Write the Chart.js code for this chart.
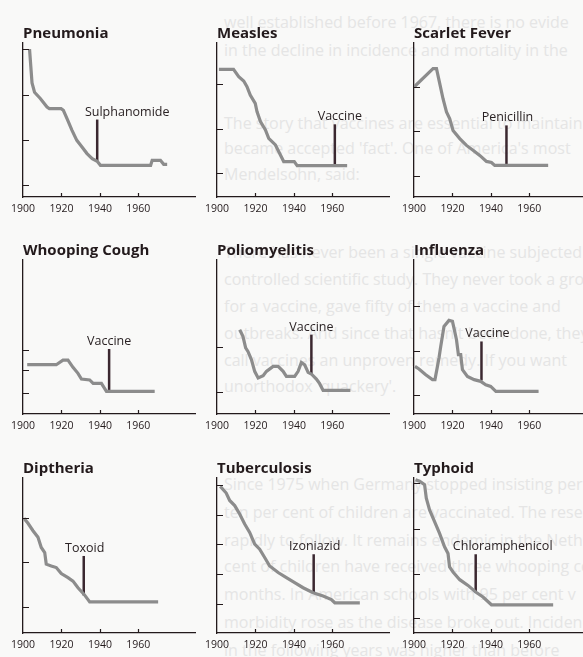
<!DOCTYPE html>
<html>
<head>
<meta charset="utf-8">
<script src="https://cdn.jsdelivr.net/npm/chart.js@4.4.1/dist/chart.umd.min.js"></script>
<style>
  html, body { margin: 0; padding: 0; }
  body {
    width: 583px; height: 657px; overflow: hidden; position: relative;
    background: #f9f9f8; font-family: 'Open Sans', sans-serif;
  }
  .page-text {
    position: absolute; left: 224px; white-space: nowrap;
    font-size: 16px; line-height: 20px; color: #e5e5e5;
  }
  canvas { position: absolute; }
</style>
</head>
<body>
<!-- body text of the page, running faintly behind the charts -->
<div class="page-text" style="top:12px">well established before 1967, there is no evide</div>
<div class="page-text" style="top:40px">in the decline in incidence and mortality in the</div>
<div class="page-text" style="top:113px">The story that vaccines are essential to maintain</div>
<div class="page-text" style="top:138px">became accepted 'fact'. One of America's most</div>
<div class="page-text" style="top:164px">Mendelsohn, said:</div>
<div class="page-text" style="top:242px">There has never been a single vaccine subjected to a</div>
<div class="page-text" style="top:269px">controlled scientific study. They never took a group</div>
<div class="page-text" style="top:296px">for a vaccine, gave fifty of them a vaccine and</div>
<div class="page-text" style="top:323px">outbreaks. And since that hasn't been done, they</div>
<div class="page-text" style="top:350px">call vaccines an unproven remedy. If you want</div>
<div class="page-text" style="top:376px">unorthodox 'quackery'.</div>
<div class="page-text" style="top:474px">Since 1975 when Germany stopped insisting per</div>
<div class="page-text" style="top:502px">ten per cent of children are vaccinated. The rese</div>
<div class="page-text" style="top:530px">rapidly to follow. It remains endemic in the Neth</div>
<div class="page-text" style="top:556px">cent of children have received three whooping co</div>
<div class="page-text" style="top:584px">months. In American schools with 95 per cent v</div>
<div class="page-text" style="top:612px">morbidity rose as the disease broke out. Incidence</div>
<div class="page-text" style="top:640px">in the following years was higher than before</div>

<canvas id="panel0"></canvas>
<canvas id="panel1"></canvas>
<canvas id="panel2"></canvas>
<canvas id="panel3"></canvas>
<canvas id="panel4"></canvas>
<canvas id="panel5"></canvas>
<canvas id="panel6"></canvas>
<canvas id="panel7"></canvas>
<canvas id="panel8"></canvas>

<script>
// Death-rate curves, arbitrary index (0 = x axis, 100 = top of y axis)
const yearTicks = [1900, 1920, 1940, 1960];

const pneumoniaYears = [1903.4, 1904.7, 1906, 1909, 1912.5, 1913.7, 1919.8, 1921, 1922.9, 1925.5, 1928, 1930.7, 1933.3, 1936, 1938.6, 1940.3, 1966.4, 1967.2, 1971.5, 1973.2, 1975];
const pneumoniaRate = [96, 74, 68, 64, 58.4, 57.4, 57.4, 56.3, 50.9, 43.3, 36.8, 32.5, 28.2, 24.9, 23.2, 20.6, 20.6, 23.8, 23.8, 21.2, 21.2];
const pneumoniaTicks = [8, 37, 66, 96];

const measlesYears = [1901, 1908.6, 1911.3, 1913.9, 1915.6, 1917.3, 1919.9, 1920.8, 1922.6, 1925.2, 1926.9, 1930.4, 1933, 1934.7, 1940.2, 1941.7, 1967.7];
const measlesRate = [82.9, 82.9, 78.2, 75.3, 71.7, 66.2, 60.8, 55.5, 49, 43.5, 38.1, 33.8, 27.3, 23, 23, 20.4, 20.4];
const measlesTicks = [15.4, 44, 73.2];

const scarletYears = [1900, 1909.9, 1911.7, 1913.4, 1915.1, 1916.9, 1918.6, 1920.3, 1923.8, 1927.3, 1930.7, 1934.2, 1937.7, 1940.3, 1942, 1969.8];
const scarletRate = [71.4, 83.3, 83.3, 73.6, 63.8, 55.2, 50.8, 43.2, 37.9, 33.5, 30.3, 27, 23.1, 22.4, 20.5, 20.5];
const scarletTicks = [13.4, 42.6, 71.4];

const whoopingYears = [1902.2, 1917.3, 1920.8, 1923.4, 1926, 1928.6, 1930.4, 1934.7, 1936.5, 1940.8, 1943.4, 1968.5];
const whoopingRate = [32, 32, 35, 35, 30.3, 26.4, 22.7, 22.1, 19.9, 19.9, 14.7, 14.7];
const whoopingTicks = [13.4, 28.6, 41.6];

const polioYears = [1911.8, 1913.5, 1914.9, 1916.1, 1917.9, 1919.6, 1921.4, 1924, 1925.7, 1929.2, 1931.8, 1934.4, 1936.1, 1940.4, 1942.2, 1943.9, 1945.6, 1947.4, 1949.1, 1951.7, 1953.4, 1955.2, 1969.4];
const polioRate = [54.7, 50.4, 42.9, 40.6, 35.3, 27.7, 23.4, 24.9, 27.7, 30.9, 30.9, 27.7, 24.4, 24.4, 27.7, 33.5, 32, 27, 26, 22.7, 19.7, 15.3, 15.3];
const polioTicks = [14, 43.2];

const influenzaYears = [1900.5, 1902.6, 1906.1, 1909.6, 1910.9, 1912.2, 1913, 1913.9, 1915.6, 1918.2, 1920, 1920.8, 1922.1, 1923.1, 1924.3, 1925.2, 1927.8, 1931.3, 1934.7, 1937.3, 1939.9, 1942.6, 1964.8];
const influenzaRate = [30.9, 29.2, 25.5, 22.3, 22.3, 30.9, 36.4, 43.9, 56.9, 60.8, 60.2, 55.8, 48.2, 38.5, 38.5, 28.8, 24.4, 22.3, 21.2, 19, 17.9, 14.7, 14.7];
const influenzaTicks = [12.5, 41.1, 70.3];

const diptheriaYears = [1900.5, 1902.6, 1905.2, 1907.8, 1909.5, 1911.3, 1912.1, 1914.7, 1917.3, 1919.9, 1923.4, 1926, 1928.6, 1931.8, 1934.7, 1970.3];
const diptheriaRate = [74, 70.8, 66, 61.7, 55.2, 51.9, 44.4, 43.2, 42.2, 38.3, 35.7, 33.5, 29.2, 24.9, 20.1, 20.1];
const diptheriaTicks = [16.6, 45.5, 74];

const tuberculosisYears = [1901.7, 1904.8, 1906.6, 1909.2, 1911.8, 1914.4, 1917, 1919.6, 1922.2, 1924.8, 1927.4, 1931.8, 1936.1, 1940.4, 1944.8, 1950, 1955.2, 1959.5, 1961.3, 1974.3];
const tuberculosisRate = [94.6, 90.3, 85.5, 82.2, 76.8, 70.3, 64.9, 57.3, 54.1, 48.7, 43.2, 39, 35.7, 32.5, 29.2, 26, 23.8, 21.6, 19.5, 19.5];
const tuberculosisTicks = [18.8, 38.3, 57.3, 76.2, 95.2];

const typhoidYears = [1900.8, 1902.9, 1905.5, 1906.4, 1908.1, 1910.7, 1913.3, 1915.9, 1917.7, 1918.5, 1920.3, 1923.8, 1928.1, 1932.1, 1935.9, 1940.3, 1972.4];
const typhoidRate = [98.9, 97.9, 95.7, 87, 79.4, 71.9, 64.3, 55.6, 51.3, 42.6, 39.4, 34.4, 30.7, 26.4, 23.2, 18.2, 18.2];
const typhoidTicks = [9.5, 38.3, 67.1, 96.8];

const diseases = ['Pneumonia', 'Measles', 'Scarlet Fever', 'Whooping Cough', 'Poliomyelitis', 'Influenza', 'Diptheria', 'Tuberculosis', 'Typhoid'];
const treatments = ['Sulphanomide', 'Vaccine', 'Penicillin', 'Vaccine', 'Vaccine', 'Vaccine', 'Toxoid', 'Izoniazid', 'Chloramphenicol'];
const treatmentYears = [1938.6, 1961.3, 1948.1, 1944.8, 1949.1, 1935.1, 1931.6, 1950.3, 1932.1];
const treatmentBase = [23.4, 20.8, 21, 15.1, 25.7, 21.8, 24.2, 26, 25.8];
const treatmentTop = [50.3, 47.2, 46.5, 42.2, 51.5, 47.1, 49.7, 50.8, 50.8];

const panelYears = [pneumoniaYears, measlesYears, scarletYears, whoopingYears, polioYears, influenzaYears, diptheriaYears, tuberculosisYears, typhoidYears];
const panelRates = [pneumoniaRate, measlesRate, scarletRate, whoopingRate, polioRate, influenzaRate, diptheriaRate, tuberculosisRate, typhoidRate];
const panelTicks = [pneumoniaTicks, measlesTicks, scarletTicks, whoopingTicks, polioTicks, influenzaTicks, diptheriaTicks, tuberculosisTicks, typhoidTicks];

// page grid: y-axis x position per column, axis top / bottom per row
const colAxisX = [22.7, 216.5, 413.5];
const rowAxisTop = [43, 260, 478];
const rowAxisBottom = [197, 414, 633];
const padLeft = 22;
const labelShift = [30, 5, 1, 0, 0, 6, 1, 1, 27];

const FONT = "'Open Sans', sans-serif";
const INK = '#231a1c';

// small inward tick marks and the treatment caption
const panelMarks = {
    id: 'panelMarks',
    afterDatasetsDraw(chart, args, opts) {
        const { ctx, chartArea, scales } = chart;
        ctx.save();
        ctx.strokeStyle = INK;
        ctx.lineWidth = 1.2;
        ctx.beginPath();
        opts.yTicks.forEach(function(v) {
            const y = Math.round(scales.y.getPixelForValue(v)) + 0.5;
            ctx.moveTo(chartArea.left, y);
            ctx.lineTo(chartArea.left + 6, y);
        });
        yearTicks.slice(1).forEach(function(v) {
            const x = Math.round(scales.x.getPixelForValue(v)) + 0.5;
            ctx.moveTo(x, chartArea.bottom);
            ctx.lineTo(x, chartArea.bottom - 4);
        });
        ctx.stroke();

        ctx.fillStyle = '#2a2224';
        ctx.font = '12.5px ' + FONT;
        ctx.textAlign = 'center';
        ctx.textBaseline = 'alphabetic';
        ctx.fillText(opts.label,
            scales.x.getPixelForValue(opts.year) + opts.shift,
            scales.y.getPixelForValue(opts.top) - 4);
        ctx.restore();
    }
};

function drawPanel(i) {
    const col = i % 3, row = Math.floor(i / 3);
    const canvas = document.getElementById('panel' + i);
    const top = rowAxisTop[row] - 18;
    canvas.width = padLeft + 173;
    canvas.height = rowAxisBottom[row] - top + 20;
    canvas.style.left = (colAxisX[col] - padLeft) + 'px';
    canvas.style.top = top + 'px';

    const points = panelYears[i].map(function(yr, k) { return { x: yr, y: panelRates[i][k] }; });
    const bar = [
        { x: treatmentYears[i], y: treatmentBase[i] },
        { x: treatmentYears[i], y: treatmentTop[i] }
    ];

    new Chart(canvas.getContext('2d'), {
        type: 'line',
        data: {
            datasets: [
                // grey curve with a lighter hatched core
                { data: points, borderColor: '#8c8c8c', borderWidth: 3.2, pointRadius: 0, tension: 0 },
                { data: points, borderColor: 'rgba(228,228,228,0.95)', borderWidth: 1.2, borderDash: [2, 1.5], pointRadius: 0, tension: 0 },
                { data: bar, borderColor: '#3b2830', borderWidth: 2.5, borderCapStyle: 'butt', pointRadius: 0 }
            ]
        },
        options: {
            responsive: false,
            animation: false,
            events: [],
            layout: { padding: { left: padLeft, right: 0, top: 0, bottom: 0 } },
            plugins: {
                legend: { display: false },
                tooltip: { enabled: false },
                title: {
                    display: true,
                    text: diseases[i],
                    align: 'start',
                    color: INK,
                    font: { family: FONT, size: 15, weight: 'bold', lineHeight: 1.2 },
                    padding: { top: 0, bottom: 0 }
                },
                panelMarks: {
                    yTicks: panelTicks[i],
                    label: treatments[i],
                    year: treatmentYears[i],
                    top: treatmentTop[i],
                    shift: labelShift[i]
                }
            },
            scales: {
                x: {
                    type: 'linear',
                    min: 1900,
                    max: 1990,
                    grid: { display: false, drawTicks: false },
                    border: { display: true, color: INK, width: 1.3 },
                    ticks: {
                        color: INK,
                        font: { family: FONT, size: 10.5 },
                        padding: 6,
                        maxRotation: 0,
                        autoSkip: false,
                        callback: function(value) { return String(value); }
                    },
                    afterBuildTicks: function(scale) {
                        scale.ticks = yearTicks.map(function(v) { return { value: v }; });
                    },
                    afterFit: function(scale) { scale.height = 20; }
                },
                y: {
                    min: 0,
                    max: 100,
                    grid: { display: false, drawTicks: false },
                    border: { display: true, color: INK, width: 1.3 },
                    ticks: { display: false },
                    afterFit: function(scale) { scale.width = 0; }
                }
            }
        },
        plugins: [panelMarks]
    });
}

for (let i = 0; i < diseases.length; i++) {
    drawPanel(i);
}
</script>
</body>
</html>
